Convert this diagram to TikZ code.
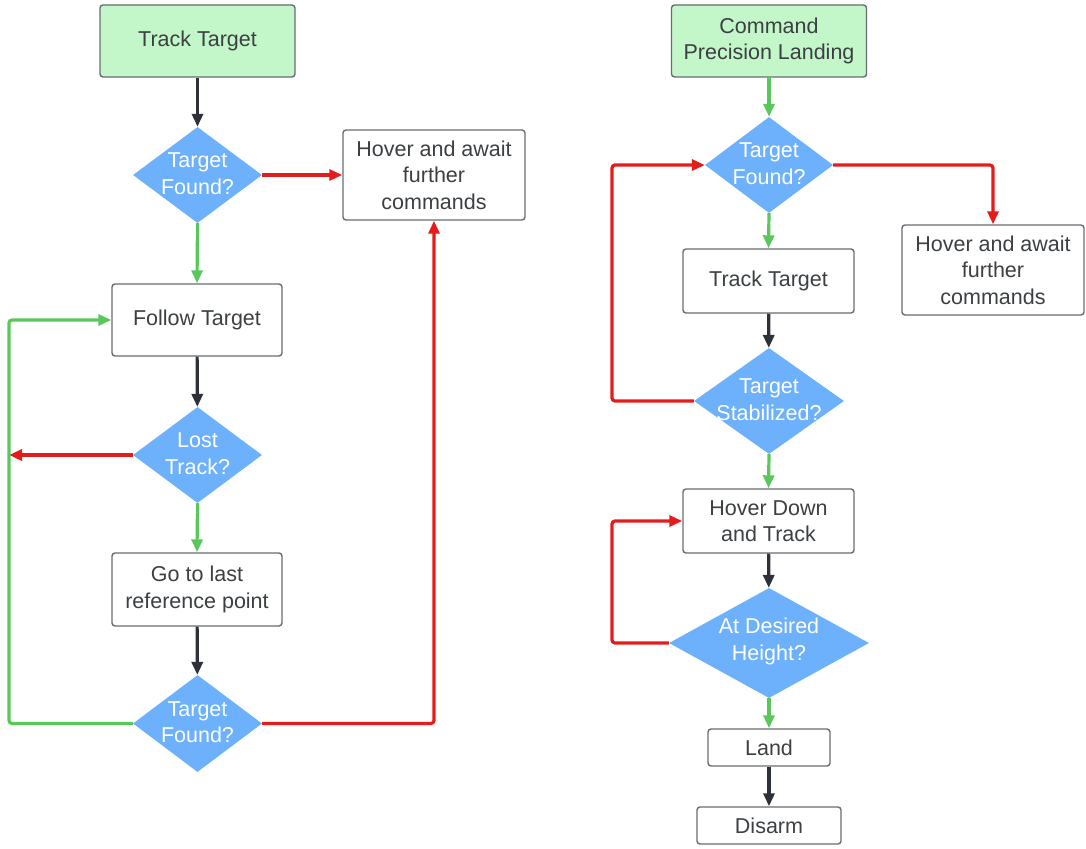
\documentclass[tikz,border=0pt]{standalone}
\usepackage{fontspec}
\setmainfont{Liberation Sans}
\usetikzlibrary{shapes.geometric,arrows.meta}
\definecolor{boxline}{HTML}{686D73}
\definecolor{boxtext}{HTML}{3C4043}
\definecolor{startfill}{HTML}{C3F6C8}
\definecolor{decfill}{HTML}{6DB1FD}
\definecolor{linkgreen}{HTML}{5AC75C}
\definecolor{linkred}{HTML}{E51C1C}
\definecolor{linkdark}{HTML}{2E3238}
\begin{document}
\begin{tikzpicture}[x=1pt,y=-1pt,
  every node/.style={font=\fontsize{21.5}{26.5}\selectfont, text=boxtext, align=center},
  procbox/.style={draw=boxline, line width=1.4pt, rounded corners=3pt, fill=white, inner sep=0pt},
  startbox/.style={procbox, fill=startfill},
  decision/.style={shape=diamond, fill=decfill, draw=none, inner sep=0pt},
  dtext/.style={text=white, font=\fontsize{21.5}{26.5}\selectfont, align=center, yshift=1.5pt},
  link/.style={line width=3.2pt, rounded corners=3pt, -{Triangle[length=13pt,width=11pt]}},
  yes/.style={link, draw=linkgreen},
  no/.style={link, draw=linkred},
  seq/.style={link, draw=linkdark}]
\useasboundingbox (0,0) rectangle (1086,848);

% ---- left flow: Track Target ----
\node[startbox, minimum width=195pt, minimum height=72pt] (start1) at (197.5,41) {Track Target};
\node[decision, minimum width=129pt, minimum height=96pt,
      label={[dtext]center:Target\\Found?}] (d1) at (197.5,175) {};
\node[procbox, minimum width=182pt, minimum height=90pt] (hov1) at (434,175) {Hover and await\\further\\commands};
\node[procbox, minimum width=170pt, minimum height=72pt] (follow) at (197,320) {Follow Target};
\node[decision, minimum width=129pt, minimum height=96pt,
      label={[dtext]center:Lost\\Track?}] (lost) at (197.5,455) {};
\node[procbox, minimum width=170pt, minimum height=73pt] (golast) at (197,589.5) {Go to last\\reference point};
\node[decision, minimum width=129pt, minimum height=97pt,
      label={[dtext]center:Target\\Found?}] (d2) at (197.5,723.5) {};
\coordinate (lx) at (9,0);

\draw[seq] (start1) -- (d1);
\draw[no]  (d1.east) -- (hov1.west);
\draw[yes] (d1.south) -- (follow.north);
\draw[seq] (follow) -- (lost);
\draw[no]  (lost.west) -- (lost.west -| lx);
\draw[yes] (lost.south) -- (golast.north);
\draw[seq] (golast) -- (d2);
\draw[yes] (d2.west) -- (d2.west -| lx) |- (follow.west);
\draw[no]  (d2.east) -| (hov1.south);

% ---- right flow: Command Precision Landing ----
\node[startbox, minimum width=195pt, minimum height=72pt] (start2) at (769,41) {Command\\Precision Landing};
\node[decision, minimum width=128pt, minimum height=96pt,
      label={[dtext]center:Target\\Found?}] (tf) at (769,165) {};
\node[procbox, minimum width=182pt, minimum height=90pt] (hov2) at (993,270) {Hover and await\\further\\commands};
\node[procbox, minimum width=171pt, minimum height=64pt] (track) at (768.5,281) {Track Target};
\node[decision, minimum width=150pt, minimum height=106pt,
      label={[dtext]center:Target\\Stabilized?}] (ts) at (769,401) {};
\node[procbox, minimum width=171pt, minimum height=64pt] (hdt) at (768.5,521) {Hover Down\\and Track};
\node[decision, minimum width=200pt, minimum height=110pt,
      label={[dtext]center:At Desired\\Height?}] (adh) at (769,643) {};
\node[procbox, minimum width=122pt, minimum height=37pt] (land) at (769,747.5) {Land};
\node[procbox, minimum width=144pt, minimum height=37pt] (disarm) at (769,825.5) {Disarm};
\coordinate (rx) at (612,0);

\draw[yes] (start2) -- (tf);
\draw[no]  (tf.east) -| (hov2.north);
\draw[yes] (tf.south) -- (track.north);
\draw[seq] (track) -- (ts);
\draw[no]  (ts.west) -- (ts.west -| rx) |- (tf.west);
\draw[yes] (ts.south) -- (hdt.north);
\draw[seq] (hdt) -- (adh);
\draw[no]  (adh.west) -- (adh.west -| rx) |- (hdt.west);
\draw[yes] (adh.south) -- (land.north);
\draw[seq] (land) -- (disarm);
\end{tikzpicture}
\end{document}
